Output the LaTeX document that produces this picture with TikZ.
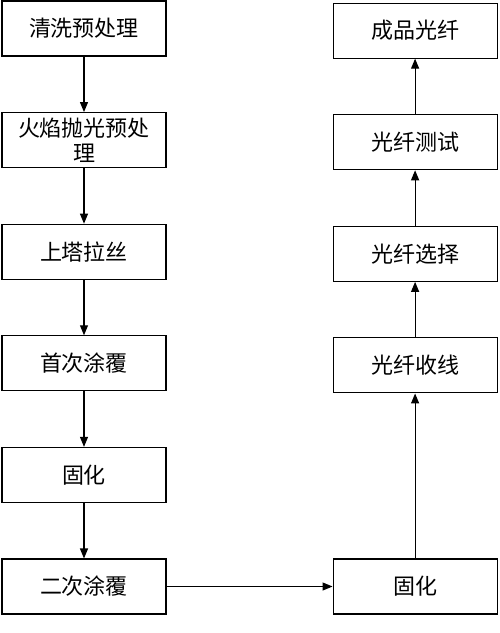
\documentclass[tikz,border=0pt]{standalone}
\usepackage{fontspec}
\newfontfamily\cjk{Noto Sans CJK SC}
\usetikzlibrary{arrows.meta}
\usetikzlibrary{positioning}
\tikzset{
    procbox/.style={
        draw, line width=1.1pt, minimum width=164pt, minimum height=55pt,
        inner sep=2pt, align=center,
        font=\cjk\fontsize{22pt}{25pt}\selectfont
    },
}

\begin{document}
\begin{tikzpicture}[>={Triangle[length=10pt,width=8pt]}, line width=1.1pt, node distance=55.5pt]

            \useasboundingbox (0,0) rectangle (500pt,-633pt);

            % Left column
            \node[procbox] (clean) at (84pt,-28.5pt) {清洗预处理};
            \node[procbox, below=of clean] (flame) {火焰抛光预处\\理};
            \node[procbox, below=of flame] (draw) {上塔拉丝};
            \node[procbox, below=of draw] (coat1) {首次涂覆};
            \node[procbox, below=of coat1] (cure1) {固化};
            \node[procbox, below=of cure1] (coat2) {二次涂覆};

            % Right column
            \node[procbox, right=166pt of coat2] (cure2) {固化};
            \node[procbox, above=165pt of cure2] (reel) {光纤收线};
            \node[procbox, above=of reel] (select) {光纤选择};
            \node[procbox, above=of select] (test) {光纤测试};
            \node[procbox, above=of test] (product) {成品光纤};

            % Flow
            \draw[->] (clean) -- (flame);
            \draw[->] (flame) -- (draw);
            \draw[->] (draw) -- (coat1);
            \draw[->] (coat1) -- (cure1);
            \draw[->] (cure1) -- (coat2);
            \draw[->] (coat2) -- (cure2);
            \draw[->] (cure2) -- (reel);
            \draw[->] (reel) -- (select);
            \draw[->] (select) -- (test);
            \draw[->] (test) -- (product);

        \end{tikzpicture}
\end{document}
